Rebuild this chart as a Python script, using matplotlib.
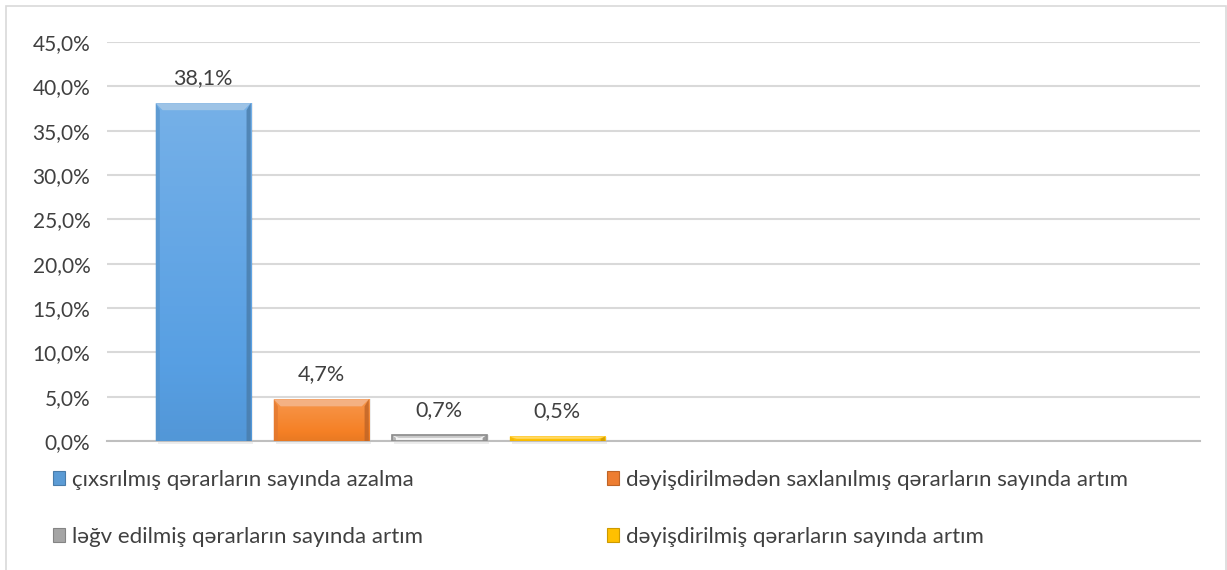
import matplotlib.pyplot as plt
from matplotlib.patches import Rectangle, Polygon
from matplotlib.ticker import FuncFormatter
import numpy as np

plt.rcParams['font.family'] = ['Lato', 'DejaVu Sans']

# series values (percent) and names
labels = [
    'çıxsrılmış qərarların sayında azalma',
    'dəyişdirilmədən saxlanılmış qərarların sayında artım',
    'ləğv edilmiş qərarların sayında artım',
    'dəyişdirilmiş qərarların sayında artım',
]
values = [38.1, 4.7, 0.7, 0.5]
colors = ['#5b9bd5', '#ed7d31', '#a5a5a5', '#ffc000']
faces = ['#579fe3', '#f58025', '#f4f4f4', '#ffc000']
yticks = [0, 5, 10, 15, 20, 25, 30, 35, 40, 45]

n_slots = 2  # the category axis has a second, empty slot
W, H = 1227, 570
fig = plt.figure(figsize=(W / 100, H / 100), dpi=100)
ax = fig.add_axes([107 / W, 1 - 441 / H, (1200 - 107) / W, (441 - 42) / H])

ax.set_xlim(0, n_slots)
ax.set_ylim(0, 45)
ax.set_yticks(yticks)
ax.yaxis.set_major_formatter(FuncFormatter(lambda v, p: f'{v:.1f}%'.replace('.', ',')))
ax.tick_params(axis='y', length=0, pad=12, labelsize=15, labelcolor='#404040')
ax.tick_params(axis='x', length=0, labelbottom=False)
ax.grid(axis='y', color='#d9d9d9', linewidth=1.5)
ax.set_axisbelow(True)
for s in ['left', 'right', 'top']:
    ax.spines[s].set_visible(False)
ax.spines['bottom'].set_color('#bfbfbf')
ax.spines['bottom'].set_linewidth(1.5)

step = 0.216
width = 0.174
px_x = n_slots / (1200 - 107)
px_y = 45 / (441 - 42)
bev = 7


def shade(c, f):
    c = np.array(plt.matplotlib.colors.to_rgb(c))
    if f > 0:
        return tuple(c + (1 - c) * f)
    return tuple(c * (1 + f))


for i, (v, col, fc) in enumerate(zip(values, colors, faces)):
    xc = 0.5 + (i - 1.5) * step
    x0, x1 = xc - width / 2, xc + width / 2
    # soft shadow under the bar
    ax.add_patch(Rectangle((x0 + 2 * px_x, -3 * px_y), width, v + 3 * px_y,
                           facecolor='#000000', alpha=0.07, zorder=2, clip_on=False))
    ax.bar(xc, v, width=width, color=fc, zorder=3)
    # vertical shading across the face
    grad = np.linspace(0.18, -0.05, 50)
    img = np.array([[shade(fc, g) for g in grad]]).reshape(50, 1, 3)
    ax.imshow(img, extent=(x0, x1, 0, v), aspect='auto', origin='upper',
              zorder=3.5, interpolation='bilinear')
    bx = min(bev * px_x, width / 2)
    by = min(bev * px_y, v / 2)
    # bevel faces
    ax.add_patch(Polygon([(x0, v), (x1, v), (x1 - bx, v - by), (x0 + bx, v - by)],
                         facecolor=shade(col, 0.4), edgecolor='none', zorder=4))
    ax.add_patch(Polygon([(x0, 0), (x0, v), (x0 + bx * 0.6, v - by), (x0 + bx * 0.6, 0)],
                         facecolor=shade(col, -0.05), edgecolor='none', zorder=4, alpha=0.7))
    ax.add_patch(Polygon([(x1, 0), (x1, v), (x1 - bx * 0.6, v - by), (x1 - bx * 0.6, 0)],
                         facecolor=shade(col, -0.2), edgecolor='none', zorder=4, alpha=0.8))
    if i == 2:
        ax.add_patch(Rectangle((x0, 0), width, v, facecolor='none',
                               edgecolor='#8c8c8c', linewidth=1.2, zorder=5))
    ax.annotate(f'{v:.1f}%'.replace('.', ','), (xc, v), xytext=(0, 18),
                textcoords='offset points', ha='center', va='center',
                fontsize=15.5, color='#404040')
ax.set_xlim(0, n_slots)
ax.set_ylim(0, 45)

handles = [Rectangle((0, 0), 1, 1, facecolor=c, edgecolor=shade(c, -0.2), linewidth=0.8)
           for c in colors]
order = [0, 2, 1, 3]
leg = fig.legend([handles[k] for k in order], [labels[k] for k in order],
                 ncol=2, loc='upper left', bbox_to_anchor=(33 / W, 1 - 450 / H),
                 frameon=False, fontsize=16, labelcolor='#404040',
                 handlelength=0.55, handleheight=0.55, handletextpad=0.3,
                 labelspacing=1.65, columnspacing=8.27)

# outer chart border
fig.add_artist(Rectangle((6 / W, -0.01), (1226 - 6) / W, 1 - 6 / H + 0.01,
                         transform=fig.transFigure, facecolor='none',
                         edgecolor='#d9d9d9', linewidth=1.2))

fig.savefig('out.png', dpi=100)
